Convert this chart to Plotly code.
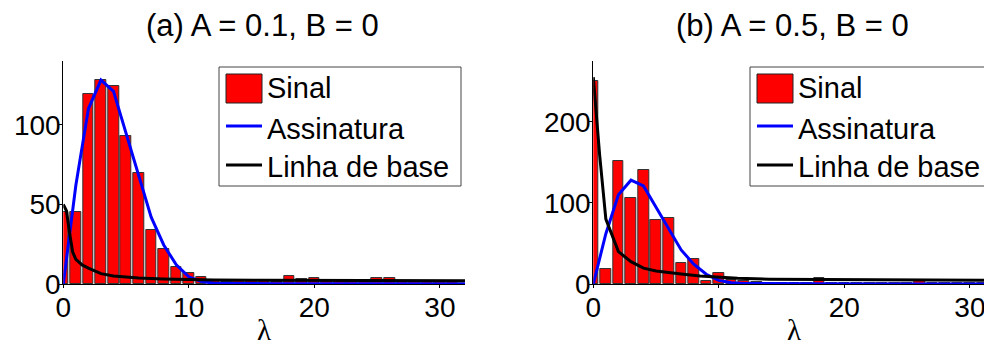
import plotly.graph_objects as go

W, H = 984, 347

# Histogram bins (centres) and counts for the two panels
bins = list(range(32))
sinal_a = [45, 45.5, 119, 128, 124, 93, 70, 34, 22, 10.5, 6.7, 4.2, 2, 1.5, 2, 2.5,
           2.5, 1.5, 5, 3, 4, 2, 2, 2, 1, 3.8, 4, 1, 1, 1, 1.5, 2]
sinal_b = [250, 19, 151.5, 105.5, 140.5, 79.5, 81, 25.5, 30.5, 4, 13, 5, 4, 3, 1, 1,
           1, 1, 7, 1, 1, 1, 1, 1, 1, 1, 5, 1, 1, 1, 1, 1]

# Signature curve (same in both panels)
assin_x = [0, 1, 2, 3, 4, 5, 6, 7, 8, 9, 10, 11, 12, 14, 17, 22, 27, 32]
assin_y = [0, 62, 110, 128, 121, 95, 68, 42, 24.5, 12, 4.5, 1.5, 0.6, 0.3, 0.2, 0.1, 0.1, 0.1]

# Baseline curves
base_a_x = [0, 0.25, 0.5, 0.75, 1, 1.5, 2, 3, 4, 5, 6, 8, 10, 12, 16, 20, 25, 32]
base_a_y = [50, 46, 32, 20, 15.5, 12, 10, 6.5, 5, 4.2, 3.8, 3.2, 2.8, 2.5, 2.3, 2.2, 2.1, 2]
base_b_x = [0, 0.5, 1, 2, 3, 4, 5, 6, 7, 8.5, 10, 11.5, 14, 18, 22, 26, 32]
base_b_y = [255, 160, 80, 40, 27.5, 19.5, 16, 14, 12.3, 10, 8.5, 7, 6, 5.5, 5, 4.5, 4.5]

titles = ["(a) A = 0.1, B = 0", "(b) A = 0.5, B = 0"]
legend_names = ["Sinal", "Assinatura", "Linha de base"]
x_ticks = [0, 10, 20, 30]
y_ticks_a = [0, 50, 100]
y_ticks_b = [0, 100, 200]

SANS = "Liberation Sans, Arial, sans-serif"
SERIF = "Liberation Serif, Times New Roman, serif"


def px(x):
    return x / W


def py(y):
    return (H - y) / H


fig = go.Figure()

panels = [
    dict(xa="x", ya="y", sinal=sinal_a, bx=base_a_x, by=base_a_y),
    dict(xa="x2", ya="y2", sinal=sinal_b, bx=base_b_x, by=base_b_y),
]
for p in panels:
    fig.add_trace(go.Bar(x=bins, y=p["sinal"], width=0.85, xaxis=p["xa"], yaxis=p["ya"],
                         marker=dict(color="#ff0000", line=dict(color="#333333", width=1)),
                         showlegend=False))
    fig.add_trace(go.Scatter(x=assin_x, y=assin_y, mode="lines", xaxis=p["xa"], yaxis=p["ya"],
                             line=dict(color="#0000ff", width=3), showlegend=False))
    fig.add_trace(go.Scatter(x=p["bx"], y=p["by"], mode="lines", xaxis=p["xa"], yaxis=p["ya"],
                             line=dict(color="#000000", width=3), showlegend=False))

# plot-area geometry in pixels
left_x0, left_x1 = 63.3, 465.0
right_x0 = 593.3
ppu = (left_x1 - left_x0) / 32.0
y_top, y_bot = 61.0, 284.0
ydom = [py(y_bot), py(y_top)]

axis_common = dict(showgrid=False, zeroline=False, showline=True, linecolor="black",
                   linewidth=1, ticks="outside", ticklen=3, tickcolor="black",
                   ticklabeloverflow="allow",
                   tickfont=dict(family=SANS, size=28, color="black"))
xfmt = dict(ticklabelstandoff=-5, **axis_common)
yfmt = dict(ticklabelstandoff=-7, **axis_common)

fig.update_layout(
    width=W, height=H, margin=dict(l=0, r=0, t=0, b=0, autoexpand=False),
    paper_bgcolor="white", plot_bgcolor="white", bargap=0, showlegend=False,
    xaxis=dict(domain=[px(left_x0), px(left_x1)], range=[0, 32], tickvals=x_ticks,
               anchor="y", **xfmt),
    yaxis=dict(domain=ydom, range=[0, 140], tickvals=y_ticks_a, anchor="x", **yfmt),
    xaxis2=dict(domain=[px(right_x0), 1.0], range=[0, (W - right_x0) / ppu], tickvals=x_ticks,
                anchor="y2", **xfmt),
    yaxis2=dict(domain=ydom, range=[0, 275], tickvals=y_ticks_b, anchor="x2", **yfmt),
)

shapes = []
annotations = []
for i, (x_box, x_mid) in enumerate([(219, 264), (750, 794)]):
    # panel title and x-axis label
    annotations.append(dict(text=titles[i], x=px(x_mid - 1.5), y=py(25), xref="paper", yref="paper",
                            xanchor="center", yanchor="middle", showarrow=False,
                            font=dict(family=SANS, size=31, color="black")))
    annotations.append(dict(text="λ", x=px(x_mid), y=py(347), xref="paper", yref="paper",
                            xanchor="center", yanchor="bottom", showarrow=False, borderpad=0,
                            font=dict(family=SERIF, size=29, color="black")))
    # legend box
    shapes.append(dict(type="rect", xref="paper", yref="paper", x0=px(x_box), x1=px(x_box + 242),
                       y0=py(186), y1=py(67), line=dict(color="#444444", width=1),
                       fillcolor="white", layer="above"))
    sx0, sx1 = x_box + 7, x_box + 43
    shapes.append(dict(type="rect", xref="paper", yref="paper", x0=px(sx0), x1=px(sx1),
                       y0=py(103), y1=py(74), line=dict(color="#222222", width=1),
                       fillcolor="#ff0000", layer="above"))
    shapes.append(dict(type="line", xref="paper", yref="paper", x0=px(sx0), x1=px(sx1),
                       y0=py(126), y1=py(126), line=dict(color="#0000ff", width=3), layer="above"))
    shapes.append(dict(type="line", xref="paper", yref="paper", x0=px(sx0), x1=px(sx1),
                       y0=py(165), y1=py(165), line=dict(color="#000000", width=3), layer="above"))
    for name, yc in zip(legend_names, [88, 129, 167]):
        annotations.append(dict(text=name, x=px(sx1 + 3), y=py(yc), xref="paper", yref="paper",
                                xanchor="left", yanchor="middle", showarrow=False,
                                font=dict(family=SANS, size=29, color="black")))

fig.update_layout(shapes=shapes, annotations=annotations)
fig.write_html("out.html")
